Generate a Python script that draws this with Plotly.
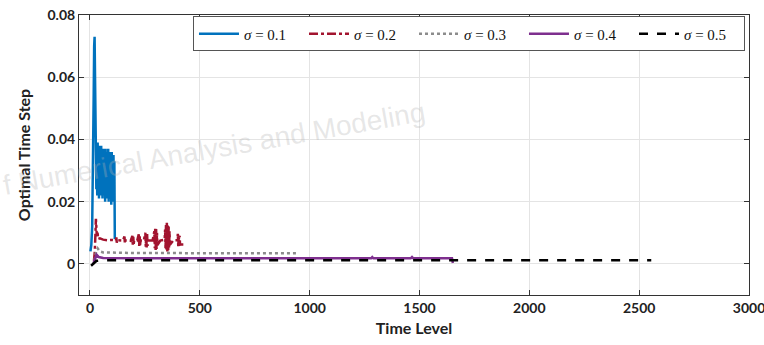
import plotly.graph_objects as go

# sigma = 0.1
t1 = [2, 6, 10, 14, 17, 19, 21, 23, 25, 27, 29, 31, 33, 35, 37, 39, 41, 43, 45, 47, 49, 51, 53, 55,
      57, 59, 61, 63, 65, 67, 69, 71, 73, 75, 77, 79, 81, 83, 85, 87, 89, 91, 93, 95, 97, 99, 101,
      103, 105, 107, 109, 111, 113]
v1 = [0.004, 0.006, 0.012, 0.030, 0.055, 0.070, 0.073, 0.060, 0.035, 0.040, 0.024, 0.038, 0.022,
      0.039, 0.025, 0.036, 0.021, 0.038, 0.027, 0.035, 0.022, 0.038, 0.024, 0.037, 0.021, 0.036,
      0.026, 0.037, 0.022, 0.035, 0.020, 0.037, 0.025, 0.036, 0.021, 0.034, 0.023, 0.037, 0.020,
      0.035, 0.024, 0.036, 0.021, 0.034, 0.019, 0.036, 0.022, 0.033, 0.020, 0.035, 0.021, 0.033,
      0.008]

# sigma = 0.2
t2 = [18, 22, 25, 27, 29, 31, 34, 37, 45, 60, 80, 100, 118, 120, 122, 124, 150, 157, 159, 161,
      185, 193, 195, 197, 199, 201, 215, 222, 224, 226, 228, 230, 245, 252, 254, 256, 258, 260, 262,
      264, 285, 293, 295, 297, 299, 301, 303, 305, 307, 320, 340, 342, 344, 346, 348, 350, 352, 354,
      356, 358, 360, 362, 364, 380, 398, 400, 402, 404, 406, 408, 410, 425]
v2 = [0.001, 0.004, 0.010, 0.0145, 0.012, 0.009, 0.0105, 0.008, 0.0082, 0.0078, 0.0076, 0.0077,
      0.0075, 0.0085, 0.0068, 0.0076, 0.0075, 0.0088, 0.0065, 0.0076, 0.0074, 0.0090, 0.0062,
      0.0087, 0.0064, 0.0075, 0.0075, 0.0095, 0.0058, 0.0092, 0.0060, 0.0075, 0.0075, 0.0100,
      0.0055, 0.0098, 0.0053, 0.0096, 0.0058, 0.0075, 0.0075, 0.0105, 0.0050, 0.0117, 0.0045,
      0.0112, 0.0048, 0.0100, 0.0060, 0.0075, 0.0078, 0.0110, 0.0050, 0.0125, 0.0042, 0.0132,
      0.0040, 0.0128, 0.0044, 0.0120, 0.0050, 0.0105, 0.0062, 0.0076, 0.0076, 0.0097, 0.0055,
      0.0095, 0.0058, 0.0090, 0.0062, 0.0062]

# sigma = 0.3
t3 = [20, 28, 35, 45, 60, 100, 200, 300, 400, 500, 600, 700, 800, 900, 940]
v3 = [0.001, 0.0040, 0.0050, 0.0040, 0.0037, 0.0036, 0.0035, 0.0035, 0.0034, 0.0034, 0.0034,
      0.0034, 0.0034, 0.0034, 0.0034]

# sigma = 0.4
t4 = [15, 22, 30, 40, 60, 200, 500, 800, 1100, 1280, 1285, 1290, 1460, 1466, 1472, 1648, 1652]
v4 = [0.0000, 0.0015, 0.0030, 0.0022, 0.0019, 0.0018, 0.0018, 0.0018, 0.0018, 0.0018, 0.0022,
      0.0018, 0.0018, 0.0022, 0.0018, 0.0018, 0.0003]

# sigma = 0.5
t5 = [5, 15, 30, 60, 300, 600, 900, 1200, 1500, 1800, 2100, 2400, 2555]
v5 = [-0.0006, 0.0000, 0.0010, 0.0012, 0.0012, 0.0012, 0.0012, 0.0012, 0.0012, 0.0012, 0.0012,
      0.0012, 0.0012]

names = ["<i>σ</i> = 0.1", "<i>σ</i> = 0.2", "<i>σ</i> = 0.3", "<i>σ</i> = 0.4", "<i>σ</i> = 0.5"]
colors = ["#0072BD", "#A2142F", "#8C8C8C", "#7E2F8E", "#000000"]
dashes = ["solid", "dashdot", "dot", "solid", "dash"]
series = [(t1, v1), (t2, v2), (t3, v3), (t4, v4), (t5, v5)]

fig = go.Figure()
for (t, v), n, c, d in zip(series, names, colors, dashes):
    fig.add_trace(go.Scatter(x=t, y=v, mode="lines", name=n,
                             line=dict(color=c, width=2.5, dash=d)))

tick_font = dict(family="Lato, sans-serif", size=14, color="#222", weight="bold")
title_font = dict(family="Lato, sans-serif", size=16, color="#222")
fig.update_layout(
    width=764, height=345,
    margin=dict(l=79, r=15, t=15, b=50),
    paper_bgcolor="white", plot_bgcolor="white",
    showlegend=True,
    legend=dict(orientation="h", x=0.994, xanchor="right", y=0.995, yanchor="top",
                bgcolor="white", bordercolor="#555", borderwidth=1,
                font=dict(family="Liberation Serif, serif", size=15, color="#111"),
                entrywidth=55, itemwidth=40, tracegroupgap=0),
    xaxis=dict(range=[-50, 3000], dtick=500, tick0=0, showgrid=True, gridcolor="#e4e4e4",
               showline=True, linecolor="#333", linewidth=1, mirror="ticks",
               ticks="inside", ticklen=5, tickcolor="#333", zeroline=False, automargin=False,
               ticklabeloverflow="allow", tickfont=tick_font,
               title=dict(text="<b>Time Level</b>", font=title_font, standoff=8)),
    yaxis=dict(range=[-0.01, 0.08], dtick=0.02, tick0=0, showgrid=True, gridcolor="#e4e4e4",
               showline=True, linecolor="#333", linewidth=1, mirror="ticks",
               ticks="inside", ticklen=5, tickcolor="#333", zeroline=False, automargin=False,
               ticklabeloverflow="allow", tickfont=tick_font,
               title=dict(text="<b>Optimal Time Step</b>", font=title_font, standoff=12)),
    annotations=[dict(text="f Numerical Analysis and Modeling", xref="paper", yref="paper",
                      x=0.2015, y=0.525, xanchor="center", yanchor="middle", showarrow=False,
                      textangle=-10,
                      font=dict(family="Liberation Sans, Arial, sans-serif", size=28,
                                color="rgba(180,180,180,0.33)"))],
)

fig.write_html("out.html", config={"displayModeBar": False},
               post_script="document.body.style.margin='0px';")
